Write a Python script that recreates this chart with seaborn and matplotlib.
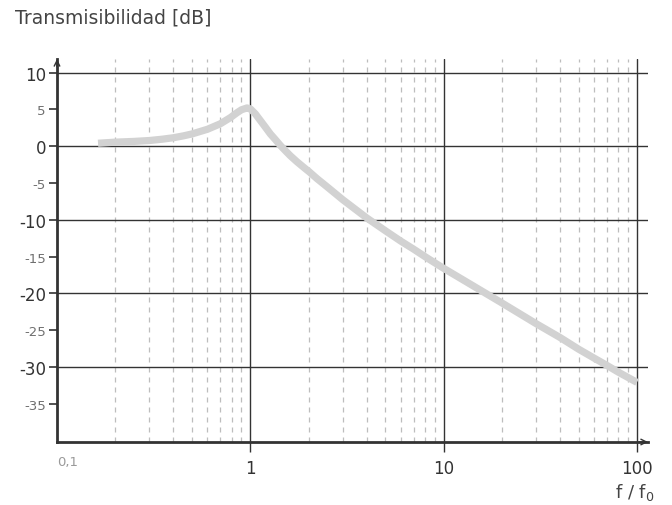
import numpy as np
import pandas as pd
import matplotlib
matplotlib.use("Agg")
import matplotlib.pyplot as plt
import matplotlib.ticker as mticker
import seaborn as sns

# ---- data ----
freq_ratio = [0.163, 0.2, 0.25, 0.3, 0.35, 0.4, 0.45, 0.5, 0.6, 0.7, 0.79, 0.853,
              0.9, 0.961, 1.0, 1.061, 1.126, 1.195, 1.269, 1.347, 1.43, 1.516,
              1.61, 1.74, 1.885, 2.02, 2.21, 2.49, 2.8, 3, 4, 5, 6, 7, 8, 9, 10,
              20, 30, 40, 50, 60, 70, 80, 100]
transmissibility_db = [0.4, 0.55, 0.65, 0.77, 0.95, 1.15, 1.4, 1.67, 2.3, 3.05, 3.9,
                       4.55, 4.95, 5.2, 5.07, 4.4, 3.5, 2.6, 1.67, 0.9, 0.1, -0.6,
                       -1.3, -2.1, -2.86, -3.5, -4.4, -5.5, -6.6, -7.25, -9.75, -11.5,
                       -12.9, -14.0, -15.0, -15.85, -16.6, -21.3, -24.1, -26.0, -27.6,
                       -28.8, -29.8, -30.7, -32.1]

y_major_ticks = [10, 0, -10, -20, -30]
y_minor_ticks = [5, -5, -15, -25, -35]
x_major_ticks = [1, 10, 100]
x_major_labels = ["1", "10", "100"]
x_first_label = "0,1"
title_text = "Transmisibilidad [dB]"
x_label_text = r"f / f$_\mathregular{0}$"

df = pd.DataFrame({"r": freq_ratio, "db": transmissibility_db})

sns.set_theme(style="white")
plt.rcParams["font.family"] = ["DejaVu Sans"]

DARK = "#333333"
MID = "#6f6f6f"
LIGHT = "#9a9a9a"

fig = plt.figure(figsize=(6.72, 5.06), dpi=100)
ax = fig.add_axes([57 / 672, 1 - 443 / 506, (648 - 57) / 672, (443 - 60) / 506])

sns.lineplot(data=df, x="r", y="db", ax=ax, color="#d2d2d2", linewidth=5.2,
             sort=False, zorder=3, solid_capstyle="butt", solid_joinstyle="round")

ax.set_xscale("log")
ax.set_xlim(0.1, 114)
ax.set_ylim(-40.2, 11.85)

# y ticks
ax.set_yticks(y_major_ticks)
ax.set_yticklabels([str(v) for v in y_major_ticks])
ax.set_yticks(y_minor_ticks, minor=True)
ax.set_yticklabels([str(v) for v in y_minor_ticks], minor=True)
ax.tick_params(axis="y", which="major", length=6, width=1.2, color=DARK,
               labelsize=12, labelcolor=DARK, pad=2, left=True)
ax.tick_params(axis="y", which="minor", length=6, width=1.2, color=DARK,
               labelsize=9.5, labelcolor=MID, pad=2, left=True)

# x ticks
ax.set_xticks(x_major_ticks)
ax.set_xticklabels(x_major_labels)
ax.xaxis.set_minor_locator(mticker.LogLocator(base=10, subs=np.arange(2, 10), numticks=20))
ax.xaxis.set_minor_formatter(mticker.NullFormatter())
ax.tick_params(axis="x", which="major", length=7, width=1.0, color=DARK,
               labelsize=12, labelcolor=DARK, pad=5, bottom=True)
ax.tick_params(axis="x", which="minor", length=0, bottom=False)

ax.text(0.1, -0.035, x_first_label, transform=ax.get_xaxis_transform(),
        ha="left", va="top", fontsize=9.5, color=LIGHT)

# grids
ax.grid(False)
ax.xaxis.grid(True, which="major", color=DARK, linewidth=1.0)
ax.xaxis.grid(True, which="minor", color="#bdbdbd", linewidth=0.9, linestyle=(0, (4, 4)))
ax.yaxis.grid(True, which="major", color=DARK, linewidth=1.0)
ax.yaxis.grid(False, which="minor")
ax.set_axisbelow(True)

# spines
for s in ["top", "right"]:
    ax.spines[s].set_visible(False)
for s in ["left", "bottom"]:
    ax.spines[s].set_color(DARK)
    ax.spines[s].set_linewidth(2.0)
    ax.spines[s].set_zorder(5)

# axis arrows
ax.annotate("", xy=(1.0, 0), xytext=(0.985, 0), xycoords="axes fraction",
            arrowprops=dict(arrowstyle="->", color=DARK, lw=1.0, shrinkA=0, shrinkB=0,
                            mutation_scale=10), zorder=6, annotation_clip=False)
ax.annotate("", xy=(0, 1.0), xytext=(0, 0.98), xycoords="axes fraction",
            arrowprops=dict(arrowstyle="->", color=DARK, lw=1.0, shrinkA=0, shrinkB=0,
                            mutation_scale=10), zorder=6, annotation_clip=False)

ax.set_xlabel("")
ax.set_ylabel("")

fig.text(15 / 672, 1 - 18 / 506, title_text, ha="left", va="center",
         fontsize=13.5, color="#444444")
fig.text(655 / 672, 1 - 493 / 506, x_label_text, ha="right", va="center",
         fontsize=13, color="#444444")

fig.savefig("out.png", dpi=100)
